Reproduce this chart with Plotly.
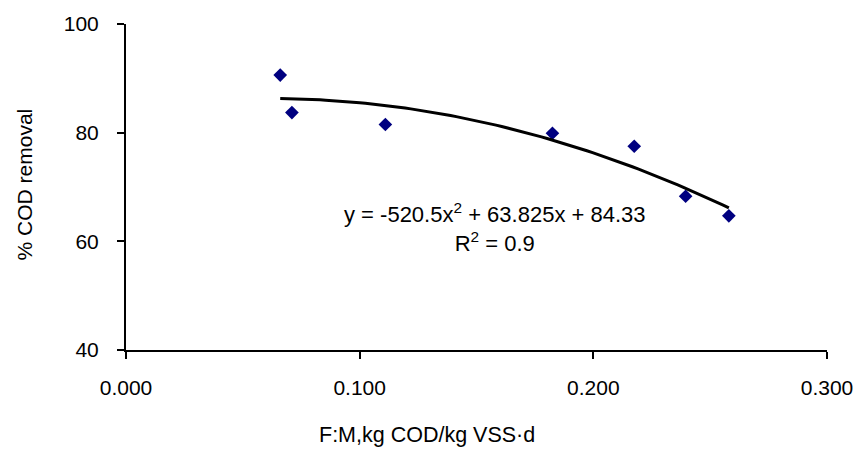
import numpy as np
import plotly.graph_objects as go

# Food-to-microorganism ratio vs COD removal
fm_ratio = [0.066, 0.071, 0.111, 0.1825, 0.2175, 0.2395, 0.258]
cod_removal = [90.6, 83.7, 81.5, 79.9, 77.5, 68.3, 64.7]

# Second-order polynomial trendline coefficients
coef_a, coef_b, coef_c = -520.5, 63.825, 84.33
r_squared = 0.9

x_ticks = [0.0, 0.1, 0.2, 0.3]
y_ticks = [40, 60, 80, 100]

FONT = "Liberation Sans, Arial, sans-serif"

x_fit = np.linspace(min(fm_ratio), max(fm_ratio), 80)
y_fit = coef_a * x_fit ** 2 + coef_b * x_fit + coef_c

fig = go.Figure()
fig.add_trace(go.Scatter(
    x=fm_ratio, y=cod_removal, mode="markers",
    marker=dict(symbol="diamond", size=10.5, color="#000080",
                line=dict(width=0)),
    showlegend=False,
))
fig.add_trace(go.Scatter(
    x=x_fit, y=y_fit, mode="lines",
    line=dict(color="black", width=3),
    showlegend=False,
))

# Trendline equation and R-squared
fig.add_annotation(
    x=0.1578, y=62.6, xref="x", yref="y",
    xanchor="center", yanchor="middle", align="center",
    text=(f"y = {coef_a}x<sup>2</sup> + {coef_b}x + {coef_c}"
          f"<br>R<sup>2</sup> = {r_squared}"),
    showarrow=False,
    font=dict(family=FONT, size=22, color="black"),
)

# Axis titles
fig.add_annotation(
    x=0.4295, y=-0.26, xref="paper", yref="paper",
    xanchor="center", yanchor="middle",
    text="F:M,kg COD/kg VSS·d", showarrow=False,
    font=dict(family=FONT, size=21.5, color="black"),
)
fig.add_annotation(
    x=-0.145, y=0.509, xref="paper", yref="paper",
    xanchor="center", yanchor="middle",
    text="% COD removal", showarrow=False, textangle=-90,
    font=dict(family=FONT, size=21, color="black"),
)

fig.update_layout(
    width=865, height=450,
    margin=dict(l=126, r=30, t=19, b=100),
    paper_bgcolor="white", plot_bgcolor="white",
    font=dict(family=FONT, size=21, color="black"),
)
fig.update_xaxes(
    range=[0, 0.3], tickvals=x_ticks, tickformat=".3f",
    showline=True, linecolor="black", linewidth=2,
    ticks="outside", ticklen=7, tickwidth=2, tickcolor="black",
    showgrid=False, zeroline=False, ticklabelstandoff=11,
)
fig.update_yaxes(
    range=[40, 100], tickvals=y_ticks,
    showline=True, linecolor="black", linewidth=2,
    ticks="outside", ticklen=7, tickwidth=2, tickcolor="black",
    showgrid=False, zeroline=False, ticklabelstandoff=14,
)

fig.write_html("out.html")
